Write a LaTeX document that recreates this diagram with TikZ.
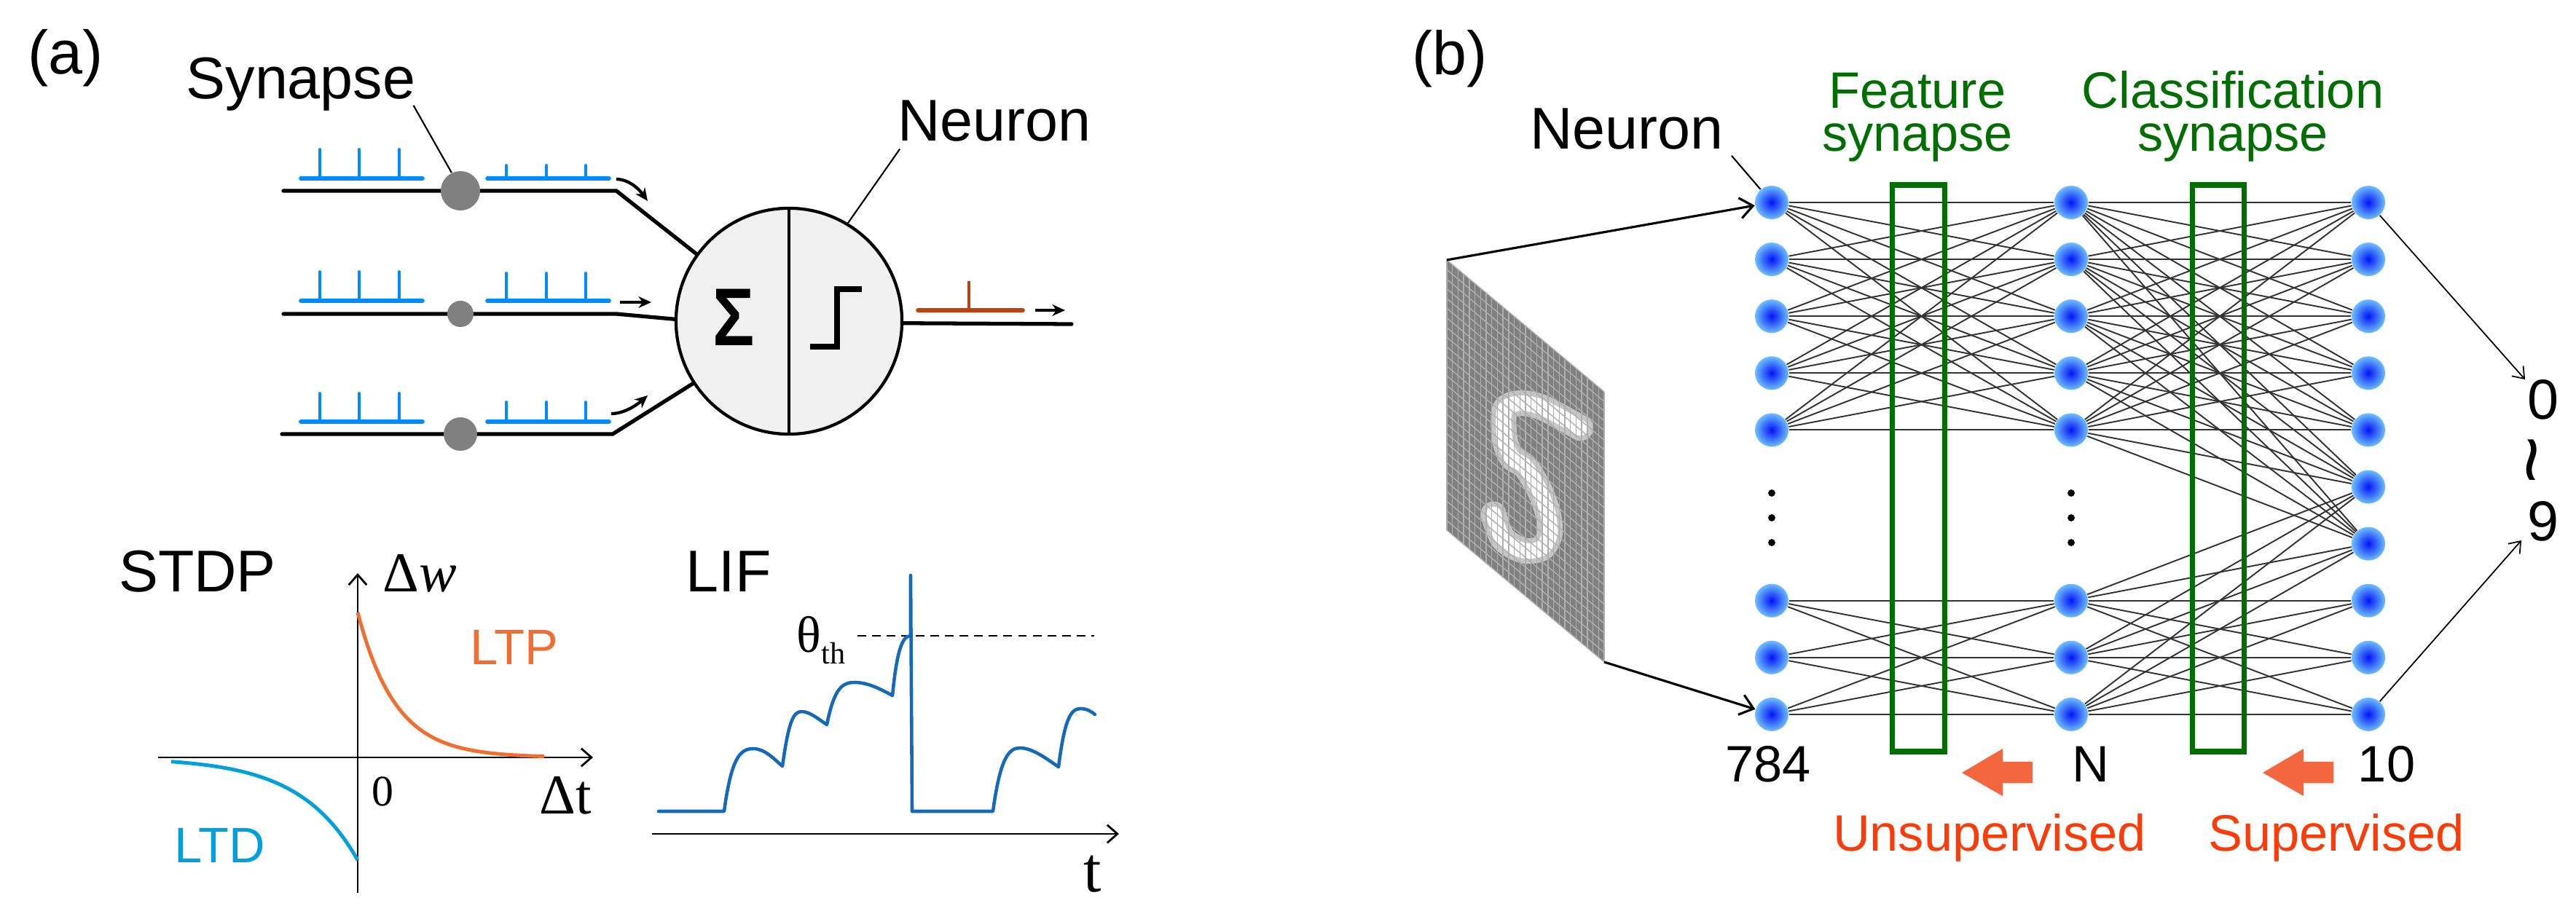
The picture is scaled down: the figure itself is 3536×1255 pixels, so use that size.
\documentclass[tikz,border=0pt]{standalone}
\usepackage{fontspec}
\setmainfont{Liberation Sans}
\newfontfamily\serifrm{Liberation Serif}
\usetikzlibrary{arrows.meta}

\definecolor{spikeblue}{RGB}{0,140,255}
\definecolor{outred}{RGB}{192,64,16}
\definecolor{ltporange}{RGB}{240,110,50}
\definecolor{ltdblue}{RGB}{0,160,220}
\definecolor{lifblue}{RGB}{20,105,185}
\definecolor{synlgreen}{RGB}{0,110,0}
\definecolor{learnorange}{RGB}{243,102,62}
\definecolor{learnred}{RGB}{250,60,10}
\definecolor{somagray}{RGB}{240,240,240}
\definecolor{syngray}{RGB}{128,128,128}
\definecolor{imggray}{RGB}{128,128,128}
\definecolor{gridgray}{RGB}{175,175,175}
\definecolor{ballblue}{RGB}{0,20,245}
\definecolor{ballrim}{RGB}{110,190,255}

\begin{document}
\begin{tikzpicture}[x=0.01cm, y=-0.01cm,
    txt/.style={inner sep=0pt, anchor=base, font=\fontsize{23}{27}\selectfont},
    txtb/.style={inner sep=0pt, anchor=base, font=\fontsize{20}{24}\selectfont},
    rmtxt/.style={inner sep=0pt, anchor=base, font=\serifrm\fontsize{22}{26}\selectfont},
    axon/.style={line width=1.5pt, line cap=round},
    spikebase/.style={spikeblue, line width=1.6pt, line cap=round},
    spikes/.style={spikeblue, line width=1.1pt, line cap=round},
    pointer/.style={line width=0.6pt},
    smallarrow/.style={line width=1.2pt, -{Stealth[length=5pt,width=4.5pt]}},
    axis/.style={line width=0.8pt, -{Straight Barb[length=4pt,width=7pt]}},
    ball/.style={circle, minimum size=0.46cm, inner sep=0pt, inner color=ballblue, outer color=ballrim},
    wire/.style={black!80, line width=0.55pt},
    synbox/.style={synlgreen, line width=2pt},
  ]
\useasboundingbox (0,0) rectangle (3536,1255);
%
% (a) neuron with three synapses
\node[circle, draw, line width=1.2pt, fill=somagray, minimum size=3.1cm, inner sep=0pt] (soma) at (1083,441) {};
\draw[line width=0.9pt] (soma.north) -- (soma.south);
\node[inner sep=0pt, font=\bfseries\fontsize{32}{32}\selectfont, xscale=0.85] (sum) at (1007,436) {Σ};
\draw[line width=2pt] (1112,476) -- (1149,476) -- (1149,397) -- (1183,397);
%
\coordinate (ax1) at (389,262);
\coordinate (ax2) at (389,431);
\coordinate (ax3) at (387,596);
\coordinate (axout) at (1471,445);
\draw[axon] (ax1) -- ++(457,0) -- (soma.144);
\draw[axon] (ax2) -- ++(457,0) -- (soma.179);
\draw[axon] (ax3) -- ++(454,0) -- (soma.213);
\draw[axon] (soma.-1.5) -- (axout);
%
\node[circle, fill=syngray, minimum size=0.54cm, inner sep=0pt] (syn1) at (632,262) {};
\node[circle, fill=syngray, minimum size=0.36cm, inner sep=0pt] (syn2) at (632,431) {};
\node[circle, fill=syngray, minimum size=0.46cm, inner sep=0pt] (syn3) at (632,596) {};
%
% spike trains: baseline / left height / right height
\foreach \yb/\hl/\hr in {245/40/18, 413/40/38, 579/39/27} {
  \draw[spikebase] (413,\yb) -- (580,\yb);
  \draw[spikebase] (669,\yb) -- (836,\yb);
  \foreach \xs in {439,493,548} \draw[spikes] (\xs,\yb) -- (\xs,\yb-\hl);
  \foreach \xs in {695,750,804} \draw[spikes] (\xs,\yb) -- (\xs,\yb-\hr);
}
\draw[smallarrow] (846,246) .. controls (862,246) and (876,258) .. (889,276);
\draw[smallarrow] (851,415) -- (894,415);
\draw[smallarrow] (839,568) .. controls (856,568) and (873,557) .. (889,543);
%
\draw[outred, line width=1.6pt, line cap=round] (1260,426) -- (1404,426);
\draw[outred, line width=1.1pt] (1330,426) -- (1330,386);
\draw[smallarrow] (1421,426) -- (1462,426);
%
\node[txt, font=\fontsize{24}{28}\selectfont] (lbla) at (90,102) {(a)};
\node[txt] (synlbl) at (413,136) {Synapse};
\node[txt] (neurona) at (1365,194) {Neuron};
\draw[pointer] ([xshift=-1pt,yshift=-2.5pt]synlbl.base east) -- (syn1.116);
\draw[pointer] ([xshift=1pt,yshift=-3pt]neurona.base west) -- (soma.59);
%
% STDP window
\node[txt] (stdp) at (271,812) {STDP};
\draw[axis] (491,1226) -- (491,787);
\draw[axis] (217,1040) -- (814,1040);
\draw[ltporange, line width=1.4pt] plot[domain=0:256, samples=60] ({491+\x},{1040-199*exp(-\x/52)});
\draw[ltdblue, line width=1.4pt] plot[domain=0:256, samples=60] ({491-\x},{1040+141*exp(-\x/80)});
\node[rmtxt] (dw) at (576,812) {Δ\textit{w}};
\node[txt, ltporange, font=\fontsize{19.5}{23}\selectfont] (ltp) at (706,912) {LTP};
\node[txt, ltdblue, font=\fontsize{19.5}{23}\selectfont] (ltd) at (302,1184) {LTD};
\node[rmtxt, font=\serifrm\fontsize{17}{20}\selectfont] (zero) at (525,1106) {0};
\node[rmtxt] (dt) at (776,1117) {Δt};
%
% LIF membrane
\node[txt] (lif) at (1000,812) {LIF};
\draw[axis] (895,1145) -- (1536,1145);
\draw[line width=0.8pt, dash pattern=on 3.4pt off 2.3pt] (1177,873) -- (1502,873);
\draw[lifblue, line width=1.3pt, line join=round, line cap=round]
  (904,1114) -- (994,1114)
  .. controls (1004,1040) and (1016,1028) .. (1034,1028)
  .. controls (1050,1028) and (1062,1042) .. (1074,1052)
  .. controls (1082,995) and (1088,977) .. (1100,977)
  .. controls (1112,977) and (1124,988) .. (1135,995)
  .. controls (1145,945) and (1156,937) .. (1173,937)
  .. controls (1192,937) and (1210,947) .. (1225,955)
  .. controls (1231,895) and (1238,873) .. (1250,873)
  -- (1250,790) -- (1252,1114) -- (1363,1114)
  .. controls (1373,1040) and (1385,1027) .. (1400,1027)
  .. controls (1418,1027) and (1438,1043) .. (1453,1053)
  .. controls (1461,990) and (1469,973) .. (1483,973)
  .. controls (1492,973) and (1498,977) .. (1503,981);
\node[anchor=base west, inner sep=0pt, font=\serifrm\fontsize{20}{24}\selectfont] (theta) at (1093,895) {θ\raisebox{-4.8pt}{\fontsize{12}{14}\selectfont th}};
\node[rmtxt, font=\serifrm\fontsize{25}{28}\selectfont] (tlbl) at (1500,1224) {t};
%
% (b) input image
\begin{scope}[shift={(1986,357)}, x={(7.714,6.464)}, y={(0,13.25)}]
  \fill[imggray] (0,0) -- (28,0) -- (28,28) -- (0,28) -- cycle;
  \draw[gray!45!white, line width=10pt, line cap=round, line join=round] plot[smooth] coordinates {(23.8,5.8) (17,7) (13,8.5) (10.3,10.5) (10.3,13.5) (11.5,14.8) (14,14.6) (16.5,15.8) (18,17.5) (18.3,19.5) (16.8,21.7) (13.5,23.5) (10,24) (8.3,22.3)};
  \draw[white, line width=6pt, line cap=round, line join=round] plot[smooth] coordinates {(23.8,5.8) (17,7) (13,8.5) (10.3,10.5) (10.3,13.5) (11.5,14.8) (14,14.6) (16.5,15.8) (18,17.5) (18.3,19.5) (16.8,21.7) (13.5,23.5) (10,24) (8.3,22.3)};
  \foreach \g in {0,...,28} {
    \draw[gridgray, line width=0.4pt] (\g,0) -- (\g,28);
    \draw[gridgray, line width=0.4pt] (0,\g) -- (28,\g);
  }
  \coordinate (imgtl) at (0,0);
  \coordinate (imgbr) at (28,28);
\end{scope}
%
% (b) network
\foreach \k/\r in {1/0,2/1,3/2,4/3,5/4,6/7,7/8,8/9} {
  \node[ball] (in\k) at (2432,{278+78.1*\r}) {};
  \node[ball] (hid\k) at (2843,{278+78.1*\r}) {};
}
\foreach \k in {1,...,10} \node[ball] (out\k) at (3251,{278+78.1*(\k-1)}) {};
%
\foreach \i in {1,...,5} \foreach \j in {1,...,5} \draw[wire] (in\i) -- (hid\j);
\foreach \i in {6,7,8} \foreach \j in {6,7,8} \draw[wire] (in\i) -- (hid\j);
\foreach \i in {1,...,5} \foreach \j in {1,...,7} \draw[wire] (hid\i) -- (out\j);
\foreach \i in {6,7,8} \foreach \j in {6,...,10} \draw[wire] (hid\i) -- (out\j);
%
\foreach \c in {2432,2843} \foreach \d in {677,711,745} \fill (\c,\d) circle (1.4pt);
%
\draw[synbox] (2597,254) rectangle (2669,1032);
\draw[synbox] (3009,254) rectangle (3080,1032);
%
\draw[line width=0.9pt, -{Straight Barb[length=5pt,width=8pt]}] (imgtl) -- (in1);
\draw[line width=0.9pt, -{Straight Barb[length=5pt,width=8pt]}] (imgbr) -- (in8);
%
\node[txt, font=\fontsize{24}{28}\selectfont] (lblb) at (1990,103) {(b)};
\node[txt] (neuronb) at (2233,205) {Neuron};
\draw[pointer] ([xshift=3pt,yshift=-2.5pt]neuronb.base east) -- (in1);
\node[inner sep=0pt, anchor=south, align=center, synlgreen, font=\fontsize{20}{16.8}\selectfont] (feat) at (2632,223) {Feature\\synapse};
\node[inner sep=0pt, anchor=south, align=center, synlgreen, font=\fontsize{20}{16.8}\selectfont] (cls) at (3065,223) {Classification\\synapse};
%
\node[txtb] (n784) at (2427,1073) {784};
\node[txtb] (nhid) at (2870,1073) {N};
\node[txtb] (nout) at (3276,1073) {10};
\foreach \dx in {0,413}
  \fill[learnorange] (2693+\dx,1061) -- (2749+\dx,1028) -- (2749+\dx,1046) -- (2790+\dx,1046) -- (2790+\dx,1075) -- (2749+\dx,1075) -- (2749+\dx,1093) -- cycle;
\node[txtb, learnred] (unsup) at (2731,1168) {Unsupervised};
\node[txtb, learnred] (sup) at (3207,1168) {Supervised};
%
\node[txtb, font=\fontsize{22}{26}\selectfont] (dig0) at (3491,575) {0};
\node[inner sep=0pt, rotate=90, font=\fontsize{32}{32}\selectfont] (tilde) at (3490,632) {\textasciitilde};
\node[txtb, font=\fontsize{22}{26}\selectfont] (dig9) at (3491,742) {9};
\coordinate (tip0) at (3466,521);
\coordinate (tip9) at (3461,742);
\draw[line width=0.5pt, -{Straight Barb[length=4pt,width=6pt]}] (out1) -- (tip0);
\draw[line width=0.5pt, -{Straight Barb[length=4pt,width=6pt]}] (out10) -- (tip9);
%
\end{tikzpicture}
\end{document}
